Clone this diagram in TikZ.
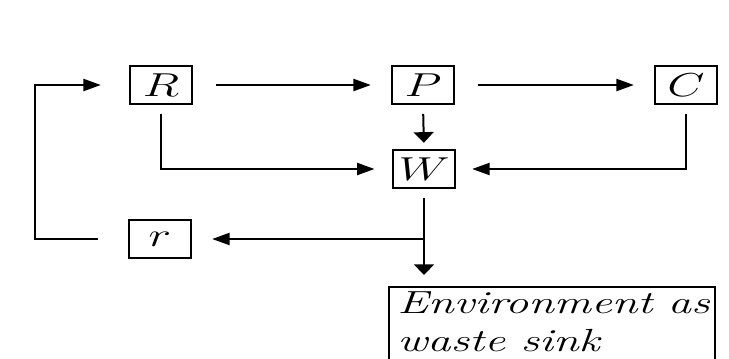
\documentclass[tikz,border=0pt]{standalone}
\usetikzlibrary{arrows.meta}
\usepackage{graphicx}
\newcommand\stretchtxt[1]{\scalebox{1.45}[1]{#1}}
\begin{document}
\begin{tikzpicture}[x=0.75pt,y=-0.75pt,
  lbl/.style={font=\fontsize{24}{28.5}\selectfont},
  box/.style={lbl, draw, line width=1.3pt, minimum width=47pt, minimum height=28pt, inner sep=0pt},
  conn/.style={line width=1.5pt},
  harr/.style={conn, -{Triangle[length=13pt,width=9pt]}},
  varr/.style={conn, -{Triangle[length=8pt,width=15pt]}}]
\useasboundingbox[fill=white] (0,0) rectangle (729,358);
\node[box] (R) at (161,85) {\stretchtxt{$R$}};
\node[box] (P) at (423,85) {\stretchtxt{$P$}};
\node[box] (C) at (686,85) {\stretchtxt{$C$}};
\node[box] (W) at (424,169) {\stretchtxt{$W$}};
\node[box] (r) at (160,239) {\stretchtxt{$r$}};
\node[lbl, anchor=north west, inner xsep=6pt, inner ysep=3pt, text width=232pt, align=left] (E) at (389,287)
  {\stretchtxt{\textit{Environment as}}\\\stretchtxt{\textit{waste sink}}};
\draw[line width=1.3pt] (E.north west |- 0,370) -- (E.north west) -- (E.north east) -- (E.north east |- 0,370);
\coordinate (b) at (424,239);
\coordinate (fu) at (35,85);
\draw[harr, shorten <=17pt, shorten >=15pt] (R.east) -- (P.west);
\draw[harr, shorten <=17pt, shorten >=15pt] (P.east) -- (C.west);
\draw[varr, shorten <=7pt, shorten >=5pt] (P.south) -- (W.north);
\draw[harr, shorten <=7pt, shorten >=13pt] (R.south) |- (W.west);
\draw[harr, shorten <=7pt, shorten >=12pt] (C.south) |- (W.east);
\draw[varr, shorten <=7pt, shorten >=9pt] (W.south) -- (E.north -| W.south);
\draw[harr, shorten >=15pt] (b) -- (r.east);
\draw[harr, shorten <=22pt, shorten >=21pt] (r.west) -| (fu) -- (R.west);
\end{tikzpicture}
\end{document}
